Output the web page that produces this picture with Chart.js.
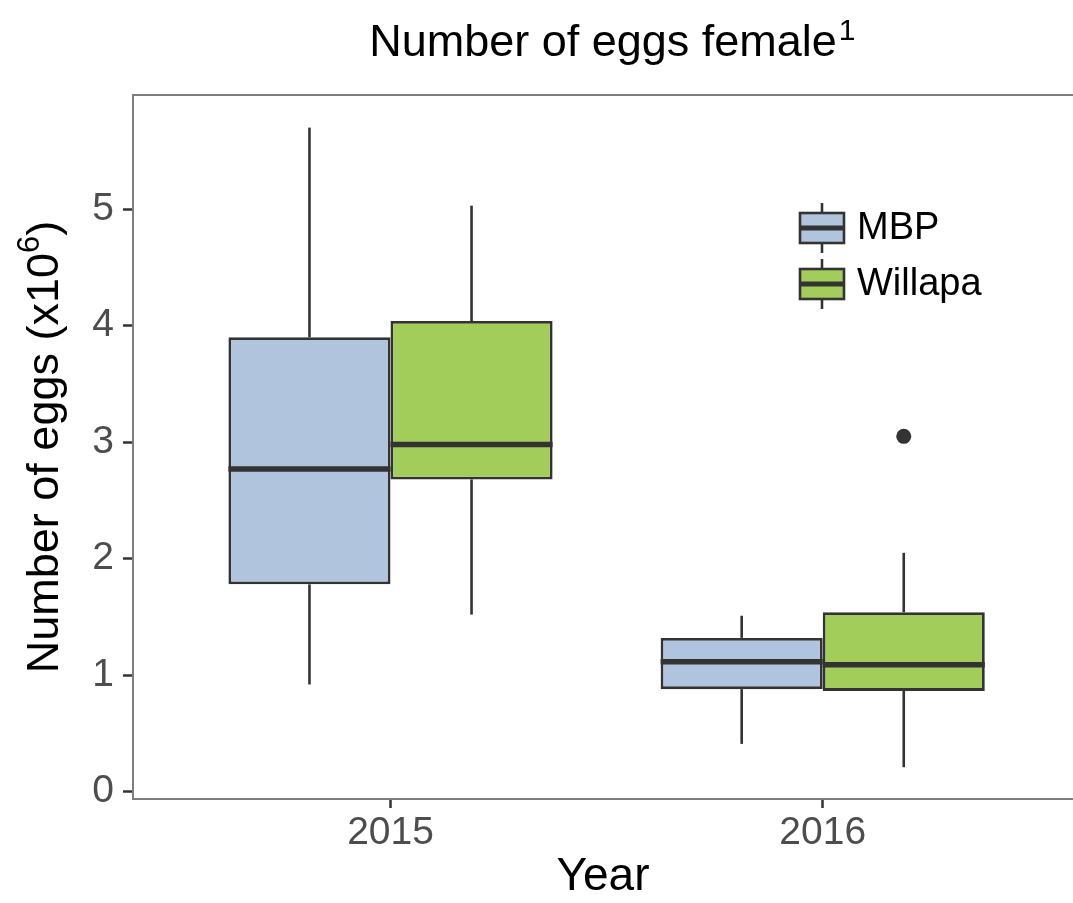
<!DOCTYPE html>
<html>
<head>
<meta charset="utf-8">
<script src="https://cdn.jsdelivr.net/npm/chart.js@4.4.1/dist/chart.umd.min.js"></script>
<style>
  html, body { margin: 0; padding: 0; background: #fff; }
</style>
</head>
<body>
<canvas id="eggChart" width="1073" height="903"></canvas>
<script>
const years = ["2015", "2016"];
const groups = ["MBP", "Willapa"];
const fills = ["#b0c4de", "#a2cd5a"];
const yTicks = [0, 1, 2, 3, 4, 5];

// box stats, eggs x10^6
const mbpLow    = [0.92, 0.41];
const mbpQ1     = [1.78, 0.88];
const mbpMedian = [2.77, 1.115];
const mbpQ3     = [3.90, 1.32];
const mbpHigh   = [5.70, 1.51];
const mbpOut    = [[], []];

const wilLow    = [1.52, 0.21];
const wilQ1     = [2.68, 0.865];
const wilMedian = [2.98, 1.09];
const wilQ3     = [4.04, 1.54];
const wilHigh   = [5.03, 2.05];
const wilOut    = [[], [3.05]];

const FONT = "'Liberation Sans', Arial, sans-serif";
const INK = "#333333";
const TITLE_SIZE = 45;
const YTITLE_SIZE = 45;

function boxData(low, q1, med, q3, high, out){
  return years.map((y, i) => ({
    x: i + 1, y: [q1[i], q3[i]],
    low: low[i], med: med[i], high: high[i], out: out[i]
  }));
}

function line(ctx, x1, y1, x2, y2){
  ctx.beginPath();
  ctx.moveTo(x1, y1);
  ctx.lineTo(x2, y2);
  ctx.stroke();
}

// whiskers, medians, outliers, panel border, titles with superscripts, legend
const boxParts = {
  id: "boxParts",
  beforeDatasetsDraw(chart){
    const ctx = chart.ctx, y = chart.scales.y, a = chart.chartArea;
    ctx.save();
    // panel border (right side runs off the canvas)
    ctx.strokeStyle = "#7f7f7f";
    ctx.lineWidth = 2;
    ctx.beginPath();
    ctx.moveTo(a.right + 5, a.top);
    ctx.lineTo(a.left, a.top);
    ctx.lineTo(a.left, a.bottom);
    ctx.lineTo(a.right + 5, a.bottom);
    ctx.stroke();

    ctx.strokeStyle = INK;
    ctx.lineWidth = 2.6;
    chart.data.datasets.forEach((ds, d) => {
      chart.getDatasetMeta(d).data.forEach((bar, i) => {
        const r = ds.data[i];
        line(ctx, bar.x, y.getPixelForValue(r.high), bar.x, y.getPixelForValue(r.y[1]));
        line(ctx, bar.x, y.getPixelForValue(r.y[0]), bar.x, y.getPixelForValue(r.low));
      });
    });
    ctx.restore();
  },
  afterDatasetsDraw(chart){
    const ctx = chart.ctx, y = chart.scales.y;
    ctx.save();
    ctx.strokeStyle = INK;
    ctx.fillStyle = INK;
    ctx.lineWidth = 5.5;
    chart.data.datasets.forEach((ds, d) => {
      chart.getDatasetMeta(d).data.forEach((bar, i) => {
        const r = ds.data[i];
        const ym = y.getPixelForValue(r.med);
        line(ctx, bar.x - bar.width / 2, ym, bar.x + bar.width / 2, ym);
        r.out.forEach(v => {
          ctx.beginPath();
          ctx.arc(bar.x, y.getPixelForValue(v), 7.5, 0, Math.PI * 2);
          ctx.fill();
        });
      });
    });
    ctx.restore();
  },
  afterDraw(chart){
    const ctx = chart.ctx, a = chart.chartArea;
    ctx.save();
    ctx.fillStyle = "#000";

    // superscript after the title
    const tb = chart.titleBlock;
    const topt = chart.options.plugins.title;
    ctx.font = TITLE_SIZE + "px " + FONT;
    const tw = ctx.measureText(topt.text).width;
    const cy = tb.top + topt.padding.top + TITLE_SIZE * 1.2 / 2;
    ctx.font = "30px " + FONT;
    ctx.textBaseline = "alphabetic";
    ctx.fillText("1", tb.left + tb.width / 2 + tw / 2 + 2, cy - 4);

    // y axis title: Number of eggs (x10^6)
    const parts = [["Number of eggs (x10", YTITLE_SIZE, 0], ["6", 31, -19], [")", YTITLE_SIZE, 0]];
    const widths = parts.map(p => { ctx.font = p[1] + "px " + FONT; return ctx.measureText(p[0]).width; });
    const total = widths.reduce((s, w) => s + w, 0);
    ctx.translate(58, (a.top + a.bottom) / 2);
    ctx.rotate(-Math.PI / 2);
    let tx = -total / 2;
    parts.forEach((p, k) => {
      ctx.font = p[1] + "px " + FONT;
      ctx.fillText(p[0], tx, p[2]);
      tx += widths[k];
    });
    ctx.setTransform(1, 0, 0, 1, 0, 0);

    // legend with boxplot keys
    chart.data.datasets.forEach((ds, j) => {
      const cy = 228 + j * 56, x0 = 800, w = 44;
      ctx.strokeStyle = INK;
      ctx.lineWidth = 2.6;
      line(ctx, x0 + w / 2, cy - 25, x0 + w / 2, cy - 15);
      line(ctx, x0 + w / 2, cy + 15, x0 + w / 2, cy + 25);
      ctx.fillStyle = ds.backgroundColor;
      ctx.fillRect(x0, cy - 15, w, 30);
      ctx.strokeRect(x0, cy - 15, w, 30);
      ctx.lineWidth = 5;
      line(ctx, x0, cy, x0 + w, cy);
      ctx.fillStyle = "#000";
      ctx.font = "38px " + FONT;
      ctx.textBaseline = "middle";
      ctx.fillText(ds.label, x0 + 57, cy + 1);
    });
    ctx.restore();
  }
};

const datasets = [
  boxData(mbpLow, mbpQ1, mbpMedian, mbpQ3, mbpHigh, mbpOut),
  boxData(wilLow, wilQ1, wilMedian, wilQ3, wilHigh, wilOut)
].map((data, j) => ({
  label: groups[j],
  data: data,
  backgroundColor: fills[j],
  borderColor: INK,
  borderWidth: 2.8,
  borderSkipped: false,
  categoryPercentage: 0.75,
  barPercentage: 1
}));

new Chart(document.getElementById("eggChart"), {
  type: "bar",
  data: { datasets: datasets },
  options: {
    responsive: false,
    animation: false,
    devicePixelRatio: 1,
    layout: { padding: 0 },
    plugins: {
      legend: { display: false },
      tooltip: { enabled: false },
      title: {
        display: true,
        text: "Number of eggs female",
        fullSize: false,
        color: "#000",
        font: { family: FONT, size: TITLE_SIZE, weight: "normal" },
        padding: { top: 17, bottom: 24 }
      }
    },
    scales: {
      x: {
        type: "linear",
        offset: false,
        min: 0.4042,
        max: 2.5791,
        afterBuildTicks: s => { s.ticks = years.map((y, i) => ({ value: i + 1 })); },
        afterFit: s => { s.height = 104; },
        ticks: {
          callback: v => years[v - 1],
          color: "#4d4d4d",
          font: { family: FONT, size: 39 },
          padding: 2,
          maxRotation: 0
        },
        grid: { offset: false, drawOnChartArea: false, drawTicks: true, tickLength: 9, tickColor: INK, tickWidth: 2.5 },
        border: { display: false },
        title: {
          display: true, text: "Year", color: "#000",
          font: { family: FONT, size: 46 },
          padding: { top: 0, bottom: -2 }
        }
      },
      y: {
        min: -0.063,
        max: 5.98,
        afterBuildTicks: s => { s.ticks = yTicks.map(v => ({ value: v })); },
        afterFit: s => { s.width = 133; },
        ticks: {
          color: "#4d4d4d",
          font: { family: FONT, size: 39 },
          padding: 9
        },
        grid: { drawOnChartArea: false, drawTicks: true, tickLength: 10, tickColor: INK, tickWidth: 2.5 },
        border: { display: false },
        title: { display: false }
      }
    }
  },
  plugins: [boxParts]
});
</script>
</body>
</html>
